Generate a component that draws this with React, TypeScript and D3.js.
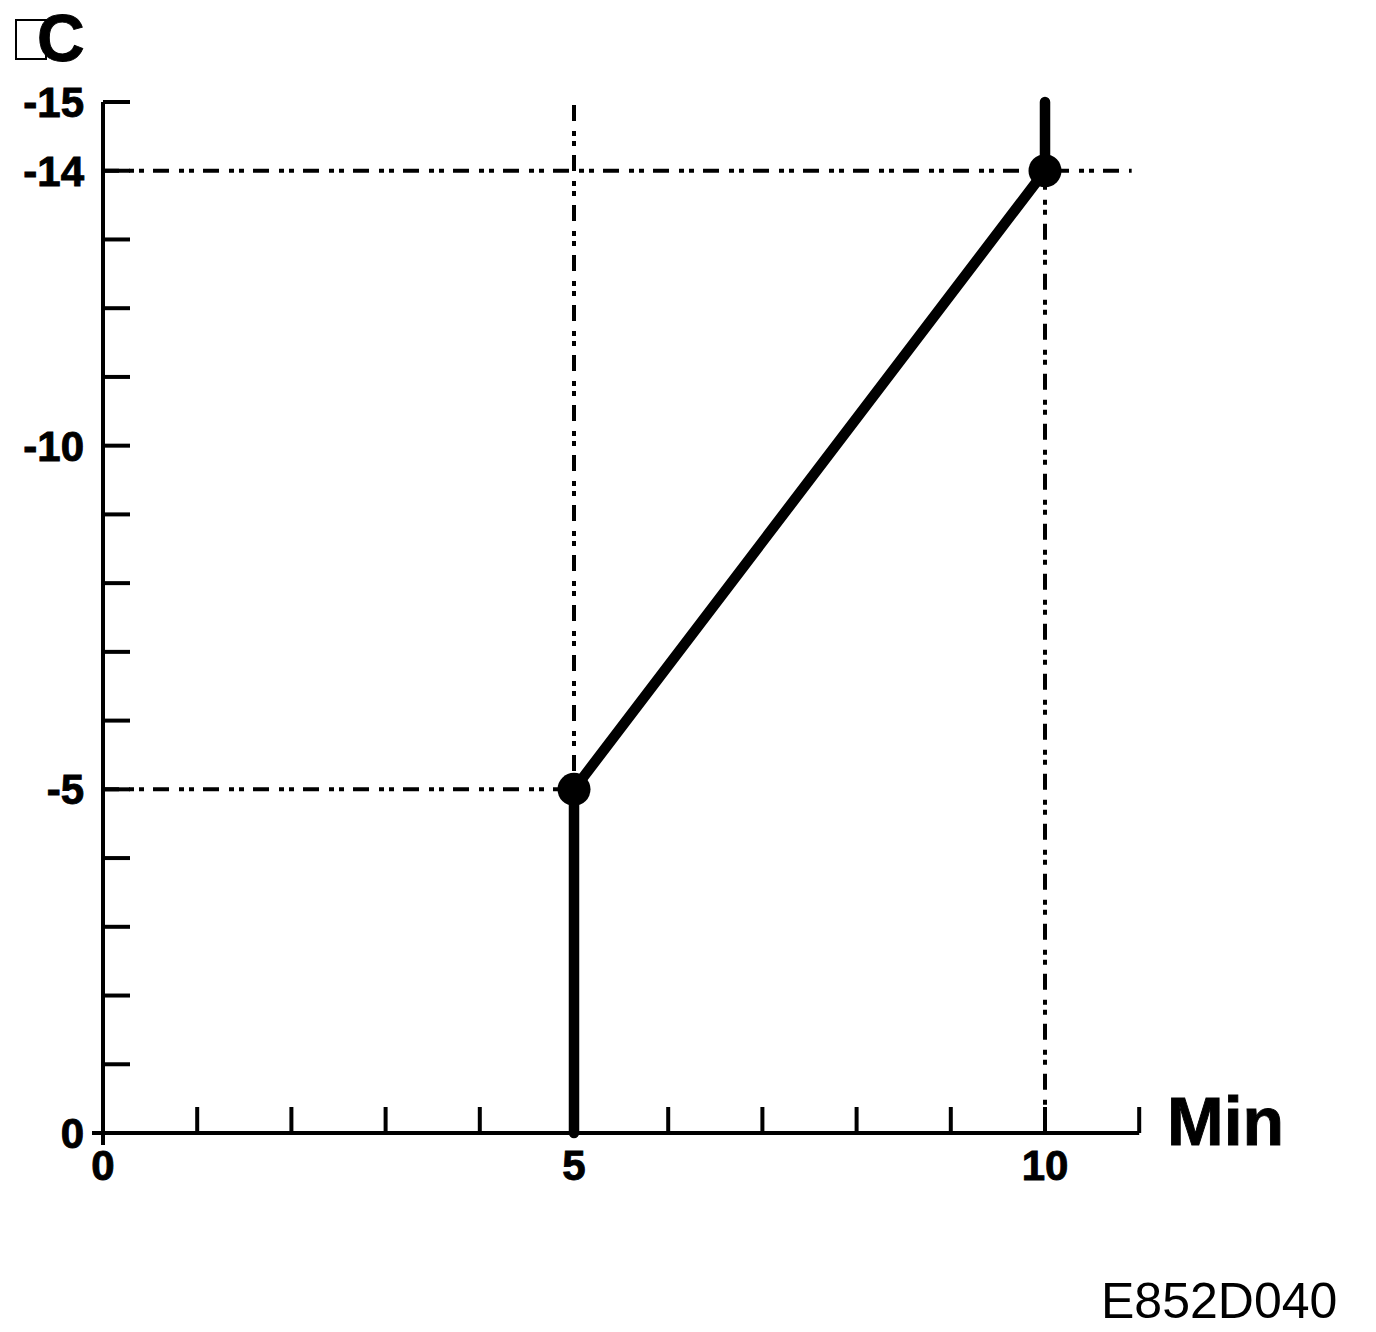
import React from "react";
import * as d3 from "d3";

// ---- data ----
const profileX: number[] = [5, 5, 10, 10];
const profileY: number[] = [0, -5, -14, -15];
const markerX: number[] = [5, 10];
const markerY: number[] = [-5, -14];
const xTickValues: number[] = [1, 2, 3, 4, 5, 6, 7, 8, 9, 10, 11];
const xTickLabels: number[] = [0, 5, 10];
const yTickValues: number[] = [-1, -2, -3, -4, -5, -6, -7, -8, -9, -10, -11, -12, -13, -14, -15];
const yTickLabels: number[] = [0, -5, -10, -14, -15];
// reference (dash-dot-dot) lines
const hRefY: number[] = [-14, -5];
const hRefXEnd: number[] = [10.92, 5];
const vRefX: number[] = [5, 10];
const vRefYTop: number[] = [-15, -14];
const yUnit = "C";
const xUnit = "Min";
const figureCode = "E852D040";

const W = 1376;
const H = 1332;
const FONT = "'Liberation Sans', Arial, Helvetica, sans-serif";
const DASH = "16,10,5,5,5,9";

export default function App() {
  const x = d3.scaleLinear().domain([0, 10]).range([103, 1045]);
  const y = d3.scaleLinear().domain([0, -15]).range([1133, 102]);
  const xMax = 11;

  const pts: [number, number][] = profileX.map((v, i) => [v, profileY[i]]);
  const line = d3
    .line<[number, number]>()
    .x((d) => x(d[0]))
    .y((d) => y(d[1]));

  const bold = { fontFamily: FONT, fontWeight: "bold" as const, stroke: "#000", strokeWidth: 0.9 };

  return (
    <svg
      width={W}
      height={H}
      viewBox={`0 0 ${W} ${H}`}
      style={{ position: "absolute", left: 0, top: 0, display: "block", background: "#fff" }}
    >
      <rect x={0} y={0} width={W} height={H} fill="#fff" />

      {/* reference lines */}
      {hRefY.map((v, i) => (
        <line
          key={"h" + i}
          x1={x(0)}
          x2={x(hRefXEnd[i])}
          y1={y(v)}
          y2={y(v)}
          stroke="#000"
          strokeWidth={4}
          strokeDasharray={DASH}
        />
      ))}
      {vRefX.map((v, i) => (
        <line
          key={"v" + i}
          x1={x(v)}
          x2={x(v)}
          y1={y(vRefYTop[i]) + 3}
          y2={y(0)}
          stroke="#000"
          strokeWidth={4}
          strokeDasharray={DASH}
        />
      ))}

      {/* axes */}
      <line x1={x(0) - 11} x2={x(xMax)} y1={y(0)} y2={y(0)} stroke="#000" strokeWidth={4} />
      <line x1={x(0)} x2={x(0)} y1={y(-15)} y2={y(0) + 12} stroke="#000" strokeWidth={4} />
      {xTickValues.map((v) => (
        <line key={"xt" + v} x1={x(v)} x2={x(v)} y1={y(0)} y2={y(0) - 26} stroke="#000" strokeWidth={4} />
      ))}
      {yTickValues.map((v) => (
        <line key={"yt" + v} x1={x(0)} x2={x(0) + 27} y1={y(v)} y2={y(v)} stroke="#000" strokeWidth={4} />
      ))}
      {xTickLabels.map((v) => (
        <text key={"xl" + v} x={x(v)} y={1180} textAnchor="middle" fontSize={42} {...bold}>
          {v}
        </text>
      ))}
      {yTickLabels.map((v) => (
        <text key={"yl" + v} x={84} y={y(v) + 15} textAnchor="end" fontSize={42} {...bold}>
          {v}
        </text>
      ))}

      {/* profile */}
      <path d={line(pts) ?? ""} fill="none" stroke="#000" strokeWidth={10.5} strokeLinecap="round" strokeLinejoin="round" />
      {markerX.map((v, i) => (
        <circle key={"m" + i} cx={x(v)} cy={y(markerY[i])} r={16.5} fill="#000" />
      ))}

      {/* unit labels */}
      <rect x={16} y={20} width={30} height={39} fill="none" stroke="#000" strokeWidth={2} />
      <text x={37} y={61} fontSize={66} {...bold}>
        {yUnit}
      </text>
      <text x={1167} y={1145} fontSize={68} {...bold}>
        {xUnit}
      </text>
      <text x={1101} y={1318} fontFamily={FONT} fontSize={50}>
        {figureCode}
      </text>
    </svg>
  );
}
